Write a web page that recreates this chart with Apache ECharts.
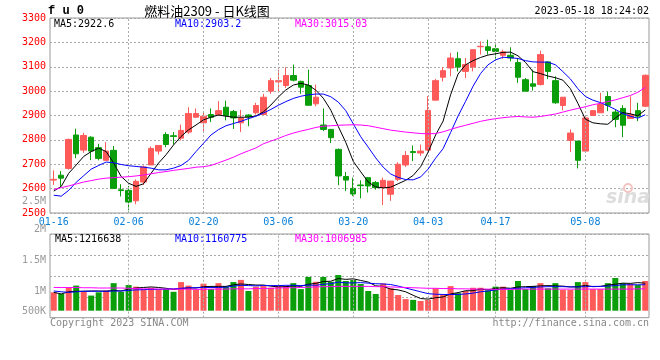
<!DOCTYPE html>
<html><head><meta charset="utf-8">
<script src="https://cdn.jsdelivr.net/npm/echarts/dist/echarts.min.js"></script>
<style>html,body{margin:0;padding:0;background:#fff}#c{width:660px;height:360px}</style>
</head><body><div id="c"></div>
<script>
const dates = ['01-16','01-17','01-18','01-19','01-20','01-30','01-31','02-01','02-02','02-03',
'02-06','02-07','02-08','02-09','02-10','02-13','02-14','02-15','02-16','02-17',
'02-20','02-21','02-22','02-23','02-24','02-27','02-28','03-01','03-02','03-03',
'03-06','03-07','03-08','03-09','03-10','03-13','03-14','03-15','03-16','03-17',
'03-20','03-21','03-22','03-23','03-24','03-27','03-28','03-29','03-30','03-31',
'04-03','04-04','04-06','04-07','04-10','04-11','04-12','04-13','04-14','04-17',
'04-18','04-19','04-20','04-21','04-24','04-25','04-26','04-27','04-28','05-04',
'05-05','05-08','05-09','05-10','05-11','05-12','05-15','05-16','05-17','05-18'];
const tickLabels = ['01-16','02-06','02-20','03-06','03-20','04-03','04-17','05-08'];
const priceTicks = [2500, 3300, 100];

const openP  = [2635,2655,2683,2820,2758,2811,2768,2716,2757,2595, 2593,2550,2627,2697,2754,2822,2817,2807,2832,2893,
 2870,2904,2904,2934,2916,2870,2902,2911,2904,3000, 3038,3023,3064,3040,3023,2948,2861,2843,2761,2650,
 2601,2615,2645,2625,2604,2577,2638,2697,2752,2746, 2758,2963,3057,3095,3133,3081,3099,3182,3182,3174,
 3147,3147,3117,3047,3030,3027,3120,3043,2941,2798, 2795,2754,2900,2911,2978,2914,2929,2888,2920,2938];
const closeP = [2638,2643,2802,2743,2818,2754,2724,2754,2601,2592, 2545,2630,2689,2765,2777,2781,2814,2839,2908,2908,
 2897,2893,2920,2900,2890,2890,2895,2941,2975,3043, 3043,3064,3045,3016,2942,2975,2843,2809,2652,2635,
 2578,2612,2611,2604,2634,2631,2700,2736,2748,2754, 2921,3043,3084,3136,3099,3109,3170,3184,3167,3163,
 3161,3136,3057,3000,3020,3150,3081,2952,2975,2828, 2716,2890,2920,2945,2942,2884,2860,2904,2897,3065];
const lowP   = [2615,2607,2678,2725,2747,2717,2716,2716,2601,2568, 2511,2536,2615,2697,2740,2770,2781,2798,2825,2890,
 2832,2873,2900,2880,2845,2832,2856,2904,2904,2989, 3000,3013,3040,2989,2942,2938,2836,2787,2614,2590,
 2570,2560,2584,2596,2533,2550,2631,2689,2713,2734, 2754,2963,3040,3061,3081,3054,3081,3150,3150,3133,
 3133,3122,3034,3000,3002,3023,3050,2948,2921,2750, 2683,2747,2900,2911,2918,2852,2811,2888,2877,2934];
const highP  = [2675,2672,2805,2846,2829,2815,2784,2791,2775,2618, 2611,2638,2695,2773,2777,2831,2832,2863,2934,2929,
 2915,2929,2959,2961,2923,2923,2905,2952,2989,3054, 3088,3098,3109,3043,3088,3027,2929,2845,2765,2668,
 2645,2634,2648,2631,2645,2631,2708,2754,2777,2781, 2979,3050,3098,3157,3161,3136,3170,3204,3211,3197,
 3170,3180,3136,3054,3088,3166,3120,3061,2975,2843, 2795,2890,2920,2993,2997,2925,2942,2978,2952,3068];

const ma5  = [2590,2609,2663,2697,2732,2752,2766,2752,2705,2650, 2622,2609,2620,2663,2705,2739,2779,2814,2841,2861,
 2882,2893,2902,2897,2893,2893,2893,2898,2915,2943, 2976,3005,3025,3032,3025,3004,2971,2922,2855,2790,
 2712,2669,2627,2607,2603,2606,2620,2634,2654,2690, 2750,2820,2877,2985,3070,3108,3125,3138,3148,3153,
 3159,3160,3145,3118,3080,3072,3062,3055,3045,3010, 2950,2885,2870,2866,2864,2890,2912,2907,2899,2922.6];
const ma10 = [2573,2569,2593,2626,2653,2680,2695,2709,2706,2699, 2694,2691,2688,2684,2677,2677,2684,2695,2716,2752,
 2786,2820,2842,2858,2867,2876,2887,2897,2910,2925, 2942,2957,2970,2979,2985,2988,2988,2977,2955,2920,
 2866,2813,2770,2726,2688,2660,2646,2637,2636,2648, 2680,2725,2764,2830,2898,2958,3020,3072,3108,3128,
 3139,3137,3134,3125,3120,3119,3119,3108,3080,3050, 3010,2978,2963,2953,2940,2925,2908,2897,2889,2903.2];
const ma30 = [2596,2604,2611,2619,2627,2633,2639,2643,2645,2647, 2649,2652,2656,2661,2666,2670,2675,2679,2683,2688,
 2690,2695,2706,2717,2729,2743,2755,2767,2784,2795, 2806,2818,2828,2836,2843,2851,2856,2858,2860,2861,
 2862,2861,2858,2852,2846,2840,2836,2832,2829,2826, 2825,2826,2833,2843,2852,2860,2868,2876,2882,2887,
 2891,2894,2896,2894,2893,2896,2901,2906,2914,2922, 2929,2936,2944,2950,2957,2964,2973,2982,2995,3015.03];

const volume = [880000,820000,1060000,1130000,900000,760000,880000,950000,1220000,900000,
 1150000,1090000,1000000,1050000,1000000,1000000,900000,1260000,1130000,970000,
 1200000,1000000,1220000,1110000,1260000,1340000,930000,1090000,1110000,1050000,
 1110000,1110000,1220000,1000000,1450000,1270000,1450000,1270000,1520000,1300000,
 1340000,1190000,930000,820000,1210000,1030000,780000,630000,600000,560000,
 600000,1030000,780000,1110000,850000,930000,1050000,1050000,950000,1090000,
 1090000,980000,1300000,1000000,1110000,1220000,1030000,1220000,970000,970000,
 1260000,1260000,1000000,1000000,1220000,1410000,1220000,1190000,1150000,1300000];
const volMa5 = [880000,820000,900000,920000,920000,930000,930000,920000,950000,930000,
 1000000,1040000,1060000,1080000,1060000,1030000,990000,1020000,1040000,1040000,
 1090000,1100000,1100000,1100000,1160000,1190000,1170000,1150000,1150000,1110000,
 1080000,1090000,1120000,1100000,1180000,1210000,1280000,1290000,1390000,1360000,
 1380000,1320000,1260000,1120000,1100000,1000000,970000,900000,770000,650000,
 630000,680000,710000,820000,870000,940000,940000,1000000,970000,1030000,
 1050000,1030000,1080000,1090000,1100000,1120000,1130000,1120000,1110000,1080000,
 1090000,1140000,1090000,1100000,1150000,1180000,1220000,1210000,1240000,1216638];
const volMa10 = [930000,900000,880000,900000,920000,920000,920000,920000,930000,930000,
 950000,970000,980000,990000,990000,1000000,1010000,1030000,1050000,1050000,
 1060000,1060000,1060000,1070000,1110000,1140000,1130000,1120000,1130000,1130000,
 1130000,1140000,1140000,1130000,1150000,1140000,1180000,1200000,1260000,1230000,
 1230000,1240000,1220000,1200000,1190000,1170000,1110000,1040000,970000,900000,
 830000,810000,800000,800000,800000,820000,850000,900000,930000,970000,
 1000000,1010000,1030000,1050000,1060000,1080000,1090000,1090000,1090000,1080000,
 1080000,1090000,1100000,1100000,1110000,1130000,1160000,1160000,1160000,1160775];
const volMa30 = [1060000,1060000,1060000,1060000,1050000,1050000,1040000,1040000,1040000,1040000,
 1030000,1020000,1010000,1010000,1000000,1000000,1000000,1000000,1000000,990000,
 990000,1000000,1000000,1000000,1010000,1010000,1010000,1020000,1020000,1030000,
 1040000,1050000,1050000,1060000,1070000,1080000,1090000,1090000,1100000,1100000,
 1100000,1100000,1100000,1090000,1090000,1080000,1070000,1060000,1050000,1040000,
 1030000,1030000,1020000,1020000,1010000,1010000,1000000,1000000,1000000,990000,
 990000,990000,1000000,1000000,1000000,1000000,1000000,1000000,1000000,1000000,
 1000000,1000000,1000000,1000000,1000000,1000000,1000000,1000000,1010000,1006985];

const mainLegend = ['MA5:2922.6','MA10:2903.2','MA30:3015.03'];
const volLegend = ['MA5:1216638','MA10:1160775','MA30:1006985'];
const volTickLabels = ['2.5M','2M','1.5M','1M','500K'];
const titleText = '燃料油2309 - 日K线图';
const codeText = 'f u 0';
const timeText = '2023-05-18 18:24:02';
const copyText = 'Copyright 2023 SINA.COM';
const urlText = 'http://finance.sina.com.cn';

const MONO = '"DejaVu Sans Mono", "Liberation Mono", monospace';
const UP = '#ff5a5a', DOWN = '#0b9e0b';
const C5 = '#000000', C10 = '#0000ff', C30 = '#ff00ff';

const ohlc = dates.map((d, i) => [openP[i], closeP[i], lowP[i], highP[i]]);
const volData = dates.map((d, i) => ({value: volume[i], itemStyle: {color: closeP[i] >= openP[i] ? UP : DOWN}}));
const vLineData = tickLabels.slice(1).map(d => ({xAxis: d}));
const mkLine = () => ({silent: true, symbol: 'none', animation: false, label: {show: false},
  lineStyle: {color: '#aaaaaa', type: [2, 2], width: 1}, data: vLineData});

function txt(x, y, text, fill, font, align) {
  return {type: 'text', x: x, y: y, silent: true, z: 100,
    style: {text: text, fill: fill, font: font || ('10px ' + MONO),
      textAlign: align || 'left', align: align || 'left', textVerticalAlign: 'middle', verticalAlign: 'middle'}};
}
const legendX = [54, 175, 295];
const legendColors = [C5, C10, C30];
const volLabelY = [201, 229.5, 260.5, 291, 311];

const graphics = [
  txt(48, 11, codeText, '#000', 'bold 12px "Liberation Mono", monospace'),
  txt(207, 11, titleText, '#000', '13px "Noto Sans CJK SC", sans-serif', 'center'),
  txt(649, 11, timeText, '#000', '10px ' + MONO, 'right'),
  txt(50, 323, copyText, '#888', '10px ' + MONO),
  txt(649, 323, urlText, '#888', '10px ' + MONO, 'right'),
  {type: 'text', x: 628, y: 198, silent: true, z: 1,
   style: {text: 'sina', fill: '#dddddd', font: 'italic bold 19px "DejaVu Sans", sans-serif',
     textAlign: 'center', align: 'center', textVerticalAlign: 'middle', verticalAlign: 'middle'}},
  {type: 'circle', shape: {cx: 628, cy: 188, r: 4}, silent: true, z: 1,
   style: {fill: 'none', stroke: '#f2c4c4', lineWidth: 2}}
];
mainLegend.forEach((t, i) => graphics.push(txt(legendX[i], 24, t, legendColors[i])));
volLegend.forEach((t, i) => graphics.push(txt(legendX[i] + (i === 0 ? 1 : 0), 239.5, t, legendColors[i])));
volTickLabels.forEach((t, i) => graphics.push(txt(46, volLabelY[i], t, '#999', '10px ' + MONO, 'right')));

const lineS = (name, data, color, xi, yi) => ({name: name, type: 'line', data: data, xAxisIndex: xi, yAxisIndex: yi,
  symbol: 'none', showSymbol: false, silent: true, z: 5, lineStyle: {color: color, width: 1}, itemStyle: {color: color}});

const chart = echarts.init(document.getElementById('c'), null, {renderer: 'canvas'});
chart.setOption({
  animation: false,
  backgroundColor: '#ffffff',
  graphic: graphics,
  grid: [
    {left: 50, top: 18, width: 599, height: 195, show: true, borderColor: '#999', borderWidth: 1, backgroundColor: 'transparent'},
    {left: 50, top: 234, width: 599, height: 76.7},
    {left: 50, top: 234, width: 599, height: 83.7, show: true, borderColor: '#999', borderWidth: 1, backgroundColor: 'transparent'}
  ],
  xAxis: [
    {type: 'category', gridIndex: 0, data: dates, boundaryGap: true,
     axisLine: {show: false}, axisTick: {show: false}, splitLine: {show: false},
     axisLabel: {interval: (i, v) => tickLabels.indexOf(v) >= 0, color: '#0a80d8', fontFamily: MONO, fontSize: 10, margin: 4}},
    {type: 'category', gridIndex: 1, data: dates, boundaryGap: true, show: false},
    {type: 'category', gridIndex: 2, data: dates, boundaryGap: true,
     axisLine: {show: false}, axisTick: {show: false}, axisLabel: {show: false}, splitLine: {show: false}}
  ],
  yAxis: [
    {type: 'value', gridIndex: 0, min: priceTicks[0], max: priceTicks[1], interval: priceTicks[2],
     axisLine: {show: false}, axisTick: {show: false},
     axisLabel: {color: '#ff0000', fontFamily: MONO, fontSize: 10, margin: 4, formatter: v => String(v)},
     splitLine: {lineStyle: {color: '#aaaaaa', type: [2, 2], width: 1}}},
    {type: 'value', gridIndex: 1, min: 200000, max: 3040000, show: false},
    {type: 'value', gridIndex: 2, min: 0, max: 4, interval: 1,
     axisLine: {show: false}, axisTick: {show: false}, axisLabel: {show: false},
     splitLine: {lineStyle: {color: '#aaaaaa', type: [2, 2], width: 1}}}
  ],
  series: [
    {name: 'K', type: 'candlestick', data: ohlc, xAxisIndex: 0, yAxisIndex: 0, barWidth: 6, silent: true,
     itemStyle: {color: UP, color0: DOWN, borderColor: UP, borderColor0: DOWN, borderWidth: 1},
     markLine: mkLine()},
    lineS('MA5', ma5, C5, 0, 0),
    lineS('MA10', ma10, C10, 0, 0),
    lineS('MA30', ma30, C30, 0, 0),
    {name: 'VOL', type: 'bar', data: volData, xAxisIndex: 1, yAxisIndex: 1, barWidth: 6, silent: true},
    lineS('VMA5', volMa5, C5, 1, 1),
    lineS('VMA10', volMa10, C10, 1, 1),
    lineS('VMA30', volMa30, C30, 1, 1),
    {name: 'frame', type: 'line', data: [], xAxisIndex: 2, yAxisIndex: 2, silent: true, markLine: mkLine()}
  ]
});
</script></body></html>
